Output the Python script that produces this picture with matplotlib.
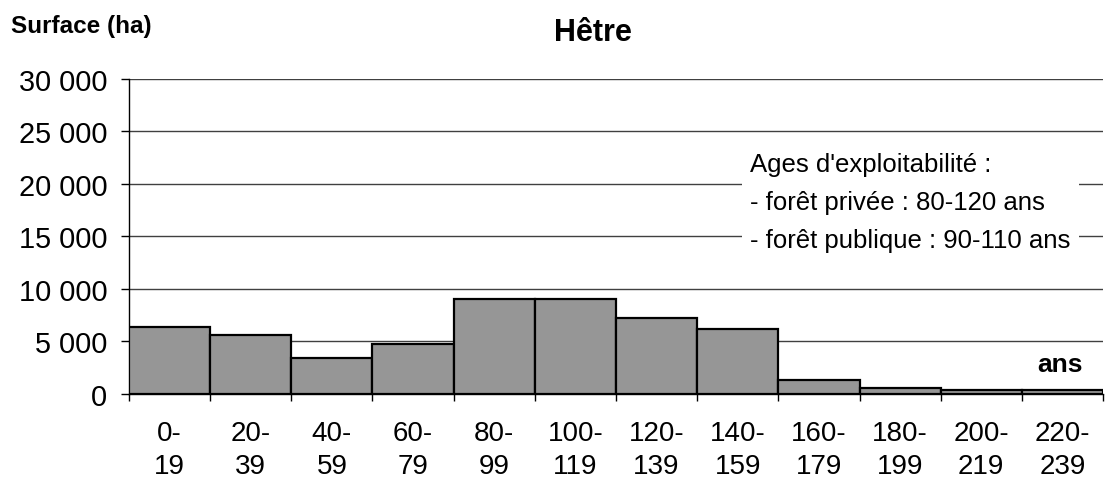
import numpy as np
import matplotlib.pyplot as plt

plt.rcParams['font.family'] = ['Liberation Sans', 'DejaVu Sans']

# classes d'age (ans) et surface (ha)
classes = ['0-\n19', '20-\n39', '40-\n59', '60-\n79', '80-\n99', '100-\n119',
           '120-\n139', '140-\n159', '160-\n179', '180-\n199', '200-\n219', '220-\n239']
surface = [6300, 5550, 3400, 4750, 9050, 9050, 7250, 6150, 1300, 550, 380, 380]
yticks = [0, 5000, 10000, 15000, 20000, 25000, 30000]
ylabels = ['0', '5 000', '10 000', '15 000', '20 000', '25 000', '30 000']

fig = plt.figure(figsize=(11.1, 4.81), dpi=100)
ax = fig.add_axes([0.1162, 0.1798, 0.8775, 0.6539])

x = np.arange(len(classes))
ax.bar(x, surface, width=1.0, color='#969696', edgecolor='black', linewidth=1.6, zorder=3)

ax.set_xlim(-0.5, len(classes) - 0.5)
ax.set_ylim(0, 30000)
ax.set_yticks(yticks)
ax.set_yticklabels(ylabels, fontsize=20.8)
ax.tick_params(axis='y', length=6, width=1, pad=9.5)
ax.yaxis.grid(True, color='#404040', linewidth=1, zorder=0)

# ticks between bars, labels at centers
ax.set_xticks(np.arange(len(classes) + 1) - 0.5)
ax.set_xticklabels([])
ax.tick_params(axis='x', which='major', length=5, width=1)
ax.set_xticks(x, minor=True)
ax.set_xticklabels(classes, minor=True, fontsize=20, linespacing=1.35)
ax.tick_params(axis='x', which='minor', length=0, pad=19)

for s in ['top', 'right']:
    ax.spines[s].set_visible(False)
ax.spines['left'].set_linewidth(1)
ax.spines['bottom'].set_linewidth(1)

fig.text(0.5338, 0.932, 'Hêtre', fontsize=22, fontweight='bold', ha='center', va='center')
fig.text(0.0099, 0.9445, 'Surface (ha)', fontsize=17.5, fontweight='bold', ha='left', va='center')
fig.text(0.975, 0.241, 'ans', fontsize=19, fontweight='bold', ha='right', va='center')

ax.text(0.6376, 0.609, "Ages d'exploitabilité :\n- forêt privée : 80-120 ans\n- forêt publique : 90-110 ans",
        transform=ax.transAxes, fontsize=18.5, linespacing=1.72, ha='left', va='center', zorder=5,
        bbox=dict(facecolor='white', edgecolor='none', pad=6))

fig.savefig('out.png', dpi=100)
